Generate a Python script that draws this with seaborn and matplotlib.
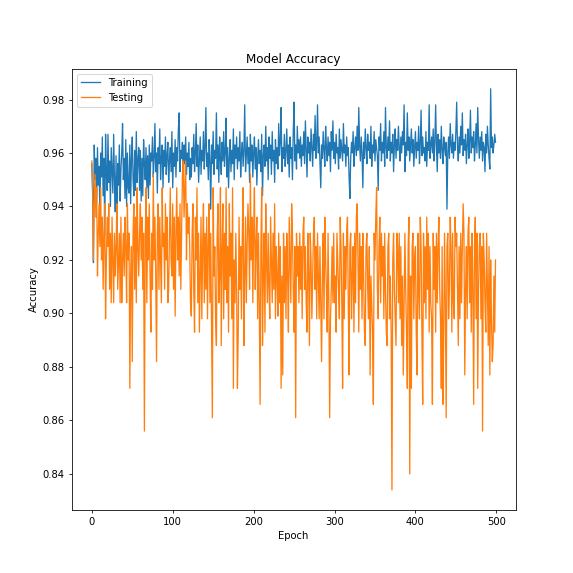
import numpy as np
import matplotlib

matplotlib.use("Agg")
import matplotlib.pyplot as plt
import seaborn as sns

# accuracy per epoch
train_acc = [
    .956, .945, .919, .963, .950, .958, .941, .962, .948, .955, .937, .960, .951, .966, .944, .958, .929, .967, .952, .946,
    .967, .949, .957, .940, .962, .953, .945, .967, .950, .938, .959, .925, .956, .948, .963, .942, .954, .960, .971, .950,
    .958, .943, .965, .940, .960, .947, .945, .963, .941, .958, .966, .950, .944, .961, .946, .968, .949, .957, .962, .946,
    .961, .942, .958, .944, .965, .956, .950, .962, .947, .959, .943, .963, .948, .960, .957, .966, .951, .958, .971, .953,
    .960, .945, .962, .956, .969, .950, .958, .963, .947, .961, .955, .966, .952, .959, .964, .949, .957, .962, .953, .968,
    .947, .960, .955, .965, .951, .962, .957, .969, .975, .953, .961, .958, .964, .948, .963, .956, .966, .952, .960, .955,
    .964, .950, .958, .951, .962, .956, .967, .953, .960, .971, .955, .963, .949, .958, .966, .952, .961, .957, .968, .954,
    .962, .977, .955, .960, .950, .965, .957, .939, .963, .956, .968, .952, .961, .958, .975, .954, .963, .949, .966, .958,
    .952, .964, .957, .968, .955, .960, .973, .951, .962, .947, .958, .965, .953, .961, .956, .969, .950, .963, .958, .966,
    .954, .962, .957, .968, .951, .960, .964, .955, .961, .978, .953, .959, .966, .956, .962, .949, .967, .957, .963, .951,
    .960, .966, .954, .962, .948, .958, .965, .956, .961, .953, .967, .944, .959, .963, .955, .970, .957, .962, .950, .966,
    .958, .963, .952, .968, .957, .961, .949, .965, .956, .962, .954, .971, .959, .964, .977, .953, .962, .958, .967, .955,
    .961, .969, .956, .963, .951, .966, .958, .962, .950, .968, .979, .957, .963, .954, .970, .960, .965, .958, .966, .955,
    .963, .959, .968, .956, .972, .961, .951, .966, .960, .964, .957, .969, .962, .955, .967, .961, .974, .958, .963, .978,
    .960, .966, .956, .947, .963, .958, .968, .961, .955, .970, .962, .957, .966, .959, .964, .953, .968, .961, .972, .958,
    .964, .956, .967, .960, .962, .954, .969, .958, .965, .961, .957, .971, .960, .963, .955, .966, .959, .962, .951, .943,
    .958, .964, .960, .968, .955, .962, .966, .959, .970, .961, .977, .963, .957, .966, .960, .947, .964, .958, .969, .962,
    .956, .967, .961, .964, .958, .970, .955, .963, .960, .968, .957, .965, .962, .959, .946, .966, .961, .971, .957, .964,
    .960, .968, .955, .977, .962, .958, .966, .961, .972, .957, .964, .960, .967, .953, .963, .969, .958, .965, .961, .970,
    .962, .957, .966, .960, .968, .963, .978, .953, .964, .959, .975, .961, .966, .957, .963, .969, .960, .965, .955, .962,
    .968, .958, .964, .961, .970, .956, .963, .976, .959, .966, .960, .962, .957, .968, .955, .964, .961, .978, .958, .963,
    .966, .960, .969, .957, .964, .978, .962, .953, .967, .960, .965, .958, .970, .961, .956, .966, .962, .959, .964, .939,
    .960, .966, .958, .971, .963, .960, .967, .958, .964, .961, .968, .979, .962, .957, .966, .960, .970, .963, .975, .959,
    .965, .961, .967, .956, .963, .969, .958, .964, .976, .960, .966, .962, .968, .957, .963, .971, .960, .977, .965, .958,
    .966, .961, .968, .957, .964, .962, .953, .967, .960, .970, .963, .958, .954, .984, .962, .966, .960, .963, .967, .964,
]

test_acc = [
    .957, .947, .920, .941, .952, .936, .947, .914, .930, .941, .925, .947, .920, .936, .909, .930, .941, .898, .920, .936,
    .925, .941, .909, .930, .904, .936, .920, .904, .930, .914, .925, .941, .909, .920, .930, .904, .936, .904, .920, .930,
    .914, .936, .925, .904, .941, .920, .930, .872, .914, .925, .882, .930, .941, .909, .936, .904, .947, .925, .914, .930,
    .941, .920, .936, .909, .930, .856, .925, .947, .904, .936, .920, .941, .914, .893, .930, .909, .952, .920, .936, .914,
    .882, .930, .941, .909, .936, .920, .904, .947, .925, .930, .909, .941, .920, .936, .904, .909, .930, .947, .920, .914,
    .941, .909, .936, .899, .930, .947, .920, .936, .914, .941, .909, .930, .952, .957, .936, .947, .957, .920, .941, .930,
    .936, .925, .904, .899, .930, .941, .909, .893, .936, .920, .947, .904, .930, .893, .914, .936, .898, .925, .941, .904,
    .930, .909, .936, .898, .925, .941, .904, .930, .893, .861, .947, .914, .925, .898, .888, .930, .941, .904, .914, .947,
    .888, .925, .941, .898, .930, .909, .947, .904, .925, .893, .941, .914, .930, .898, .947, .872, .920, .904, .930, .909,
    .872, .893, .936, .909, .925, .898, .930, .947, .888, .914, .936, .904, .925, .941, .930, .909, .952, .920, .936, .904,
    .930, .947, .909, .925, .936, .898, .930, .904, .866, .925, .947, .888, .914, .930, .893, .941, .920, .904, .930, .909,
    .898, .936, .920, .904, .930, .909, .941, .898, .925, .914, .899, .930, .904, .925, .872, .914, .877, .930, .904, .925,
    .898, .930, .914, .893, .936, .920, .904, .941, .930, .909, .893, .925, .861, .930, .914, .925, .904, .930, .909, .925,
    .898, .930, .936, .909, .925, .904, .893, .930, .914, .888, .930, .920, .898, .914, .930, .936, .909, .925, .898, .930,
    .914, .898, .925, .904, .882, .914, .930, .898, .936, .920, .909, .893, .930, .904, .861, .898, .909, .925, .904, .930,
    .904, .914, .893, .930, .920, .909, .898, .936, .925, .904, .872, .930, .898, .925, .909, .930, .936, .904, .877, .925,
    .930, .898, .914, .925, .893, .930, .904, .936, .941, .920, .893, .930, .909, .925, .898, .930, .914, .893, .888, .925,
    .930, .909, .898, .925, .877, .914, .904, .893, .866, .930, .920, .936, .947, .909, .898, .925, .936, .904, .930, .914,
    .925, .898, .930, .909, .893, .888, .925, .930, .898, .914, .893, .834, .920, .930, .909, .898, .888, .930, .925, .904,
    .930, .898, .925, .888, .914, .877, .904, .930, .909, .893, .872, .925, .936, .840, .914, .872, .925, .930, .898, .920,
    .925, .893, .877, .930, .909, .898, .936, .925, .893, .866, .930, .904, .925, .898, .936, .909, .930, .893, .925, .904,
    .898, .866, .930, .909, .925, .893, .930, .904, .925, .936, .909, .898, .872, .925, .866, .893, .930, .904, .861, .925,
    .930, .898, .909, .936, .925, .893, .930, .904, .898, .936, .925, .930, .909, .888, .925, .898, .930, .904, .925, .941,
    .930, .877, .909, .925, .898, .930, .936, .904, .925, .893, .930, .909, .866, .925, .936, .898, .930, .872, .909, .925,
    .930, .898, .925, .856, .930, .920, .904, .893, .930, .909, .888, .925, .877, .920, .898, .882, .888, .914, .893, .920,
]

epochs = np.arange(len(train_acc))

fig, ax = plt.subplots(figsize=(8, 8), dpi=71.625)

sns.lineplot(x=epochs, y=train_acc, label='Training', color='tab:blue', linewidth=1.3, ax=ax)
sns.lineplot(x=epochs, y=test_acc, label='Testing', color='tab:orange', linewidth=1.3, ax=ax)

ax.set_title('Model Accuracy')
ax.set_xlabel('Epoch')
ax.set_ylabel('Accuracy')
ax.legend(loc='upper left')

plt.savefig('out.png', dpi=71.625)
plt.close(fig)
